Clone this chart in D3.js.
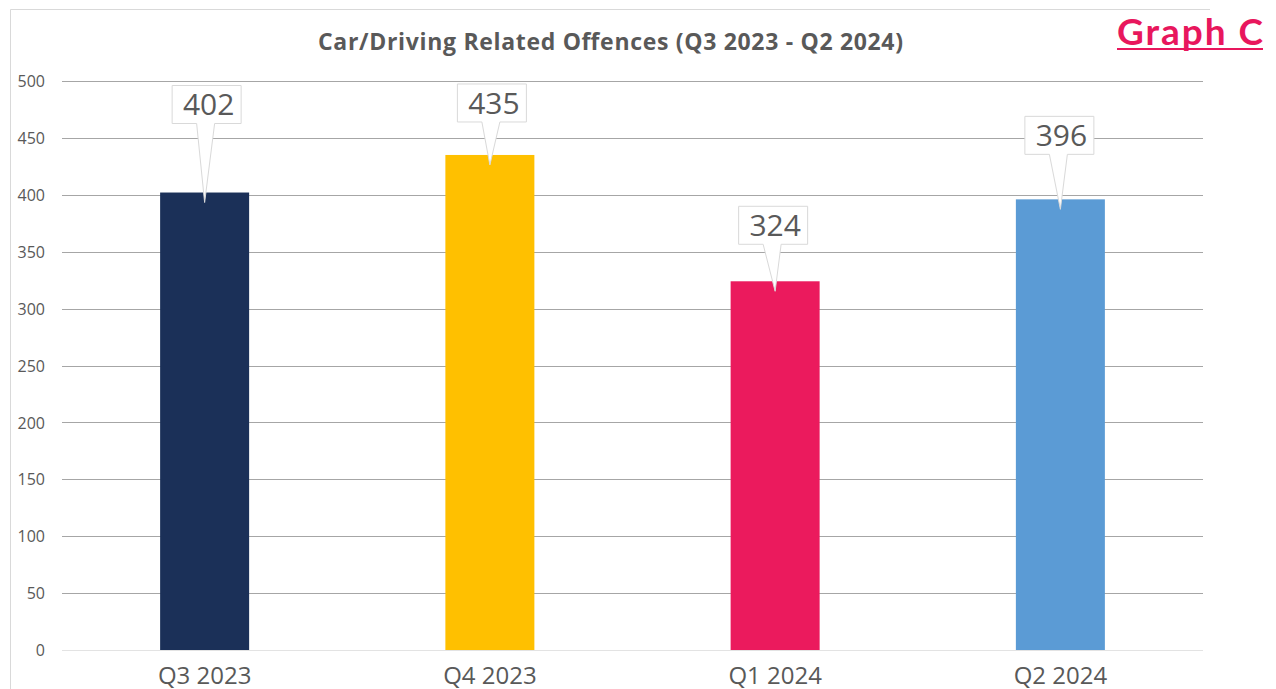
<!DOCTYPE html>
<html>
<head>
<meta charset="utf-8">
<script src="https://cdn.jsdelivr.net/npm/d3@7"></script>
<style>
  html, body { margin: 0; padding: 0; background: #fff; }
  svg { display: block; }
</style>
</head>
<body>
<svg id="chart" width="1276" height="689"></svg>
<script>
// ---- data ----
const categories = ["Q3 2023", "Q4 2023", "Q1 2024", "Q2 2024"];
const values = [402, 435, 324, 396];
const barColors = ["#1B3058", "#FFC000", "#EB1A5D", "#5B9BD5"];
const yTicks = [0, 50, 100, 150, 200, 250, 300, 350, 400, 450, 500];
const title = "Car/Driving Related Offences (Q3 2023 - Q2 2024)";
const badge = "Graph C";
// callout lift above the bar top (px), layout only
const calloutLift = [69, 33, 37, 45];
const calloutShift = [2, 2, -2, -1];

// ---- layout ----
const svg = d3.select("#chart");
const W = 1276, H = 689;
const plot = { left: 62, right: 1203, top: 81, bottom: 650 };
const textGray = "#595959";

// frame
svg.append("path")
  .attr("d", `M10.5,${H} L10.5,9.5 L1210,9.5`)
  .attr("fill", "none").attr("stroke", "#d9d9d9").attr("stroke-width", 1);

const x = d3.scaleBand().domain(categories).range([plot.left, plot.right])
  .paddingInner(0.688).paddingOuter(0.344);
const y = d3.scaleLinear().domain([0, 500]).range([plot.bottom, plot.top]);

// gridlines
svg.append("g").selectAll("line").data(yTicks).join("line")
  .attr("x1", plot.left).attr("x2", plot.right)
  .attr("y1", d => Math.round(y(d)) + 0.5).attr("y2", d => Math.round(y(d)) + 0.5)
  .attr("stroke", d => d === 0 ? "#e3e3e3" : "#a6a6a6").attr("stroke-width", 1);

// y axis labels
const yAxis = d3.axisLeft(y).tickValues(yTicks).tickSize(0).tickPadding(0);
const gy = svg.append("g").attr("transform", `translate(45,0)`).call(yAxis);
gy.select(".domain").remove();
gy.selectAll("text").attr("fill", textGray).attr("font-family", "Open Sans, sans-serif")
  .attr("font-size", 16).attr("dy", "0.35em");

// bars
svg.append("g").selectAll("rect").data(values).join("rect")
  .attr("x", (d, i) => x(categories[i]))
  .attr("y", d => y(d))
  .attr("width", x.bandwidth())
  .attr("height", d => y(0) - y(d))
  .attr("fill", (d, i) => barColors[i]);

// x axis labels
const xAxis = d3.axisBottom(x).tickSize(0).tickPadding(0);
const gx = svg.append("g").attr("transform", `translate(0,${plot.bottom})`).call(xAxis);
gx.select(".domain").remove();
gx.selectAll("text").attr("fill", textGray).attr("font-family", "Open Sans, sans-serif")
  .attr("font-size", 24).attr("y", 34).attr("dy", 0);

// callouts
const boxW = 69, boxH = 38;
const callouts = svg.append("g").selectAll("g").data(values).join("g");
callouts.each(function (d, i) {
  const g = d3.select(this);
  const bx = x(categories[i]) + x.bandwidth() / 2;
  const top = y(d);
  const cx = bx + calloutShift[i];
  const boxBottom = top - calloutLift[i];
  const boxTop = boxBottom - boxH;
  const tipX = bx, tipY = top + 10;
  const b1 = cx - 10, b2 = cx + 8;
  const path = `M${cx - boxW / 2},${boxTop} L${cx + boxW / 2},${boxTop} L${cx + boxW / 2},${boxBottom} ` +
    `L${b2},${boxBottom} L${tipX},${tipY} L${b1},${boxBottom} L${cx - boxW / 2},${boxBottom} Z`;
  g.append("path").attr("d", path).attr("fill", "#fff").attr("stroke", "#d9d9d9").attr("stroke-width", 1);
  g.append("text").attr("x", cx + 2).attr("y", boxTop + boxH / 2).attr("dy", "0.36em")
    .attr("text-anchor", "middle").attr("fill", textGray)
    .attr("font-family", "Open Sans, sans-serif").attr("font-size", 30)
    .text(d);
});

// title
svg.append("text").attr("x", 610.5).attr("y", 42).attr("dy", "0.35em")
  .attr("text-anchor", "middle").attr("fill", textGray)
  .attr("font-family", "Open Sans, sans-serif").attr("font-weight", "bold").attr("font-size", 23)
  .attr("textLength", 585).attr("lengthAdjust", "spacing")
  .text(title);

// badge
svg.append("text").attr("x", 1190).attr("y", 45)
  .attr("text-anchor", "middle").attr("fill", "#E8175D")
  .attr("font-family", "Lato, sans-serif").attr("font-weight", "bold").attr("font-size", 37)
  .attr("textLength", 146).attr("lengthAdjust", "spacing")
  .text(badge);
svg.append("line").attr("x1", 1117).attr("x2", 1263)
  .attr("y1", 49).attr("y2", 49).attr("stroke", "#E8175D").attr("stroke-width", 2);
</script>
</body>
</html>
